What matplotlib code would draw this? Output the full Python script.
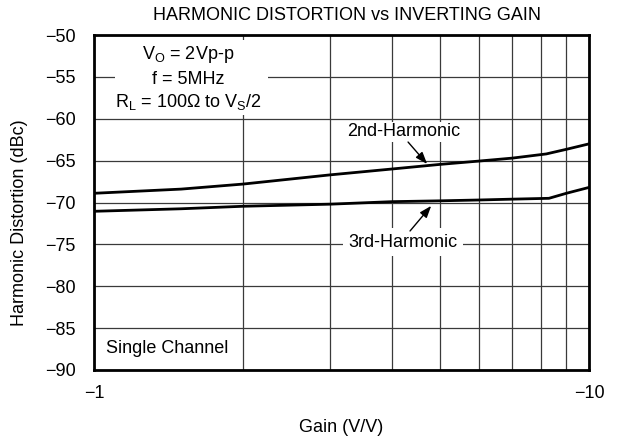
import matplotlib
matplotlib.use("Agg")
import matplotlib.pyplot as plt
from matplotlib.patches import Rectangle
from matplotlib.ticker import FixedLocator, NullFormatter

plt.rcParams['font.family'] = ['Liberation Sans', 'DejaVu Sans']
plt.rcParams['mathtext.fontset'] = 'custom'
plt.rcParams['mathtext.rm'] = 'Liberation Sans'
plt.rcParams['mathtext.it'] = 'Liberation Sans:italic'

# Gain magnitude (inverting, |V/V|) and distortion in dBc
gain_2nd = [1, 1.5, 2, 3, 4, 5, 6, 7, 8.2, 9, 10]
hd2 = [-68.9, -68.4, -67.8, -66.7, -66.0, -65.45, -65.05, -64.7, -64.2, -63.65, -63.0]
gain_3rd = [1, 1.5, 2, 3, 4, 5, 6, 7, 8.3, 9, 10]
hd3 = [-71.05, -70.75, -70.45, -70.2, -69.9, -69.8, -69.7, -69.6, -69.5, -68.9, -68.2]

y_ticks = [-50, -55, -60, -65, -70, -75, -80, -85, -90]
x_ticks = [1, 10]
x_tick_labels = ['\u22121', '\u221210']

FS = 13

fig = plt.figure(figsize=(6.23, 4.43), dpi=100)
ax = fig.add_axes([94 / 623, 73 / 443, 495 / 623, 335 / 443])

ax.set_xscale('log')
ax.set_xlim(1, 10)
ax.set_ylim(-90, -50)

ax.xaxis.set_major_locator(FixedLocator(x_ticks))
ax.set_xticklabels(x_tick_labels)
ax.xaxis.set_minor_locator(FixedLocator([2, 3, 4, 5, 6, 7, 8, 9]))
ax.xaxis.set_minor_formatter(NullFormatter())
ax.set_yticks(y_ticks)
ax.set_yticklabels([f'\u2212{abs(v)}' for v in y_ticks])

ax.tick_params(which='both', length=0, labelsize=FS, colors='black')
ax.tick_params(axis='x', pad=11)
ax.tick_params(axis='y', pad=13)

ax.set_axisbelow(True)
ax.grid(True, which='both', color='#3a3a3a', lw=0.9)
for s in ax.spines.values():
    s.set_linewidth(2.0)
    s.set_color('black')

ax.plot(gain_2nd, hd2, color='black', lw=2.0, zorder=3)
ax.plot(gain_3rd, hd3, color='black', lw=2.0, zorder=3)

# Conditions block with a white backing over the grid
ax.add_patch(Rectangle((0.042, 0.761), 0.31, 0.224, transform=ax.transAxes,
                       facecolor='white', edgecolor='none', zorder=1))
cx = 0.19
ax.text(cx, 0.942, r'$\mathregular{V_O}$ = 2Vp-p', transform=ax.transAxes,
        ha='center', va='center', fontsize=FS, zorder=4)
ax.text(cx, 0.868, 'f = 5MHz', transform=ax.transAxes,
        ha='center', va='center', fontsize=FS, zorder=4)
ax.text(cx, 0.800, r'$\mathregular{R_L}$ = 100' + '\u03a9' + r' to $\mathregular{V_S}$/2',
        transform=ax.transAxes, ha='center', va='center', fontsize=FS, zorder=4)

ax.text(0.024, 0.063, 'Single Channel', transform=ax.transAxes,
        ha='left', va='center', fontsize=FS, zorder=4)

# Curve labels with pointer arrows
arrow = dict(arrowstyle='-|>,head_length=0.55,head_width=0.2', color='black',
             lw=1.0, mutation_scale=13, shrinkA=0, shrinkB=0)
ax.text(4.23, -61.55, '2nd-Harmonic', ha='center', va='center', fontsize=FS,
        zorder=4, bbox=dict(facecolor='white', edgecolor='none', pad=1.0))
ax.annotate('', xy=(4.71, -65.4), xytext=(4.31, -62.78), arrowprops=arrow, zorder=4)
ax.text(4.21, -74.75, '3rd-Harmonic', ha='center', va='center', fontsize=FS,
        zorder=4, bbox=dict(facecolor='white', edgecolor='none', pad=4))
ax.annotate('', xy=(4.80, -70.4), xytext=(4.35, -73.4), arrowprops=arrow, zorder=4)

fig.text(347 / 623, 1 - 15 / 443, 'HARMONIC DISTORTION vs INVERTING GAIN',
         ha='center', va='center', fontsize=FS)
ax.set_xlabel('Gain (V/V)', fontsize=FS)
ax.xaxis.set_label_coords(0.5, -0.172)
ax.xaxis.label.set_va('center')
ax.set_ylabel('Harmonic Distortion (dBc)', fontsize=FS)
ax.yaxis.set_label_coords(-0.151, 0.44)
ax.yaxis.label.set_va('center')

fig.savefig('out.png', dpi=100, facecolor='white')
